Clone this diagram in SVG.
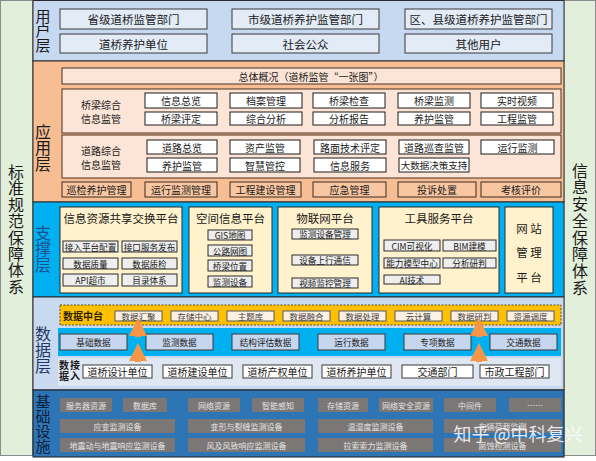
<svg xmlns="http://www.w3.org/2000/svg" width="596" height="461" viewBox="0 0 596 461">
<style>
text{font-family:"Noto Sans CJK SC","Noto Sans",sans-serif;text-anchor:middle;dominant-baseline:central;fill:#1a1a1a}
.v{writing-mode:vertical-rl;text-orientation:upright}
.ub{fill:#e3ebf6;stroke:#3a3a3a;stroke-width:1}
.pan{fill:#fce4d6;stroke:#4a3020;stroke-width:1}
.btn{fill:#ffffff;stroke:#1a1a1a;stroke-width:1}
.bb{fill:#f8c6a0;stroke:#3a2a20;stroke-width:1}
.plat{fill:#fff2cc;stroke:#2a2a2a;stroke-width:1}
.sb{fill:#eeeeee;stroke:#2a2a2a;stroke-width:1}
.zt{fill:#fdf1e4;stroke:#595959;stroke-width:1}
.mb{fill:#c6d6ee;stroke:#3a3a3a;stroke-width:1}
.ab{fill:#ffffff;stroke:#3a3a3a;stroke-width:1}
.fb{fill:#7b7777;stroke:none}
.ft{font-size:8px;fill:#e6e6e6}
.vt{font-size:16px}
.t11{font-size:11.5px}
.t10{font-size:10px}
.t9{font-size:8.6px}
.t85{font-size:8.5px;fill:#404040}
</style>
<defs>
<marker id="m" viewBox="0 0 10 10" refX="5" refY="5" markerWidth="3" markerHeight="3" orient="auto"><path d="M0,0L10,5L0,10z" fill="#f79646"/></marker>
</defs>
<rect x="0" y="0" width="596" height="461" fill="#ffffff"/>
<!-- side columns -->
<g id="side-left">
<rect x="0.5" y="0.5" width="32" height="455" fill="#e2efda" stroke="#8c8c8c"/>
<text class="vt v" x="16" y="229.5" style="letter-spacing:0.4px">标准规范保障体系</text>
</g>
<g id="side-right">
<rect x="564" y="0.5" width="31.5" height="455" fill="#e2efda" stroke="#8c8c8c"/>
<text class="vt v" x="580" y="229.5" style="letter-spacing:0.7px">信息安全保障体系</text>
</g>
<!-- user layer -->
<g id="user-layer">
<rect x="33" y="0.5" width="531" height="60.5" fill="#c6d9f1" stroke="#2a2a2a"/>
<text class="v" x="43" y="30.5" style="font-size:15px;letter-spacing:-0.5px">用户层</text>
<rect class="ub" x="60" y="9" width="147" height="20"/><text class="t11" x="133.5" y="19">省级道桥监管部门</text>
<rect class="ub" x="232" y="9" width="147" height="20"/><text class="t11" x="305.5" y="19">市级道桥养护监管部门</text>
<rect class="ub" x="405" y="9" width="147" height="20"/><text class="t11" x="478.5" y="19">区、县级道桥养护监管部门</text>
<rect class="ub" x="60" y="34" width="147" height="19"/><text class="t11" x="133.5" y="43.5">道桥养护单位</text>
<rect class="ub" x="232" y="34" width="147" height="19"/><text class="t11" x="305.5" y="43.5">社会公众</text>
<rect class="ub" x="405" y="34" width="147" height="19"/><text class="t11" x="478.5" y="43.5">其他用户</text>
</g>
<!-- application layer -->
<g id="app-layer">
<rect x="33" y="61" width="531" height="141" fill="#f7be94" stroke="#2a2a2a"/>
<text class="vt v" x="43" y="148">应用层</text>
<rect class="pan" x="62" y="68" width="499" height="16"/><text class="t10" x="311" y="76">总体概况（道桥监管“一张图”）</text>
<rect class="pan" x="62" y="89" width="499" height="44"/>
<text class="t10" x="101" y="104">桥梁综合</text><text class="t10" x="101" y="118">信息监管</text>
<rect class="btn" x="145" y="93" width="72" height="15"/><text class="t10" x="181" y="100.5">信息总览</text>
<rect class="btn" x="230" y="93" width="72" height="15"/><text class="t10" x="266" y="100.5">档案管理</text>
<rect class="btn" x="313" y="93" width="72" height="15"/><text class="t10" x="349" y="100.5">桥梁检查</text>
<rect class="btn" x="398" y="93" width="72" height="15"/><text class="t10" x="434" y="100.5">桥梁监测</text>
<rect class="btn" x="481" y="93" width="72" height="15"/><text class="t10" x="517" y="100.5">实时视频</text>
<rect class="btn" x="145" y="112" width="72" height="13"/><text class="t10" x="181" y="118.5">桥梁评定</text>
<rect class="btn" x="230" y="112" width="72" height="13"/><text class="t10" x="266" y="118.5">综合分析</text>
<rect class="btn" x="313" y="112" width="72" height="13"/><text class="t10" x="349" y="118.5">分析报告</text>
<rect class="btn" x="398" y="112" width="72" height="13"/><text class="t10" x="434" y="118.5">养护监管</text>
<rect class="btn" x="481" y="112" width="72" height="13"/><text class="t10" x="517" y="118.5">工程监管</text>
<rect class="pan" x="62" y="135" width="499" height="43"/>
<text class="t10" x="101" y="150">道路综合</text><text class="t10" x="101" y="164">信息监管</text>
<rect class="btn" x="147" y="140" width="70" height="14"/><text class="t10" x="182" y="147">道路总览</text>
<rect class="btn" x="230" y="140" width="70" height="14"/><text class="t10" x="265" y="147">资产监管</text>
<rect class="btn" x="314" y="140" width="72" height="14"/><text class="t10" x="350" y="147">路面技术评定</text>
<rect class="btn" x="399" y="140" width="70" height="14"/><text class="t10" x="434" y="147">道路巡查监管</text>
<rect class="btn" x="481" y="140" width="73" height="14"/><text class="t10" x="517.5" y="147">运行监测</text>
<rect class="btn" x="147" y="158" width="70" height="14"/><text class="t10" x="182" y="165">养护监管</text>
<rect class="btn" x="230" y="158" width="70" height="14"/><text class="t10" x="265" y="165">智慧管控</text>
<rect class="btn" x="314" y="158" width="72" height="14"/><text class="t10" x="350" y="165">信息服务</text>
<rect class="btn" x="399" y="158" width="70" height="14"/><text class="t10" x="434" y="165" style="font-size:9.5px">大数据决策支持</text>
<rect class="bb" x="62" y="182" width="69" height="15"/><text class="t10" x="96.5" y="189.5">巡检养护管理</text>
<rect class="bb" x="145" y="182" width="72" height="15"/><text class="t10" x="181" y="189.5">运行监测管理</text>
<rect class="bb" x="230" y="182" width="71" height="15"/><text class="t10" x="265.5" y="189.5">工程建设管理</text>
<rect class="bb" x="313" y="182" width="73" height="15"/><text class="t10" x="349.5" y="189.5">应急管理</text>
<rect class="bb" x="398" y="182" width="78" height="15"/><text class="t10" x="437" y="189.5">投诉处置</text>
<rect class="bb" x="481" y="182" width="80" height="15"/><text class="t10" x="521" y="189.5">考核评价</text>
</g>
<!-- support layer -->
<g id="support-layer">
<rect x="33" y="202" width="531" height="95" fill="#00b0f0" stroke="#2a2a2a"/>
<text class="vt v" x="43" y="249" style="fill:#1f4e8c">支撑层</text>
<rect class="plat" x="60" y="207" width="122" height="86"/><text class="t11" x="121" y="218">信息资源共享交换平台</text>
<rect class="sb" x="63" y="241" width="55" height="11"/><text class="t9" x="90.5" y="246.5">接入平台配置</text>
<rect class="sb" x="122" y="241" width="55" height="11"/><text class="t9" x="149.5" y="246.5">接口服务发布</text>
<rect class="sb" x="63" y="258" width="55" height="11"/><text class="t9" x="90.5" y="263.5">数据质量</text>
<rect class="sb" x="122" y="258" width="55" height="11"/><text class="t9" x="149.5" y="263.5">数据质检</text>
<rect class="sb" x="63" y="274" width="55" height="12"/><text class="t9" x="90.5" y="280">API超市</text>
<rect class="sb" x="122" y="274" width="55" height="12"/><text class="t9" x="149.5" y="280">目录体系</text>
<rect class="plat" x="189" y="207" width="83" height="86"/><text class="t11" x="230.5" y="218">空间信息平台</text>
<rect class="sb" x="208" y="230" width="44" height="10"/><text class="t9" x="230" y="235">GIS地图</text>
<rect class="sb" x="208" y="245" width="44" height="11"/><text class="t9" x="230" y="250.5">公路网图</text>
<rect class="sb" x="208" y="260" width="44" height="11"/><text class="t9" x="230" y="265.5">桥梁位置</text>
<rect class="sb" x="208" y="276" width="44" height="11"/><text class="t9" x="230" y="281.5">监测设备</text>
<rect class="plat" x="278" y="207" width="94" height="86"/><text class="t11" x="325" y="218">物联网平台</text>
<rect class="sb" x="292" y="229" width="66" height="10"/><text class="t9" x="325" y="234">监测设备管理</text>
<rect class="sb" x="292" y="255" width="66" height="10"/><text class="t9" x="325" y="260">设备上行通信</text>
<rect class="sb" x="292" y="278" width="66" height="10"/><text class="t9" x="325" y="283">视频监控管理</text>
<rect class="plat" x="379" y="207" width="120" height="86"/><text class="t11" x="439" y="218">工具服务平台</text>
<rect class="sb" x="384" y="240" width="56" height="11"/><text class="t9" x="412" y="245.5">CIM可视化</text>
<rect class="sb" x="443" y="240" width="53" height="11"/><text class="t9" x="469.5" y="245.5">BIM建模</text>
<rect class="sb" x="384" y="258" width="56" height="10"/><text class="t9" x="412" y="263">能力模型中心</text>
<rect class="sb" x="443" y="258" width="53" height="10"/><text class="t9" x="469.5" y="263">分析研判</text>
<rect class="sb" x="384" y="275" width="56" height="9"/><text class="t9" x="412" y="279.5">AI技术</text>
<rect class="plat" x="505" y="207" width="48" height="86"/>
<text class="t11" x="529" y="228">网 站</text><text class="t11" x="529" y="252">管 理</text><text class="t11" x="529" y="277">平 台</text>
</g>
<!-- data layer -->
<g id="data-layer">
<rect x="33" y="297" width="531" height="93" fill="#c9daf0" stroke="#2a2a2a"/>
<text class="vt v" x="43" y="350" style="fill:#1f3864">数据层</text>
<rect x="60" y="305" width="501" height="20" fill="#ffc000" stroke="#5a4a20" stroke-dasharray="2,1.5"/>
<text x="83" y="315" style="font-size:10px;font-weight:bold;fill:#2a1f00">数据中台</text>
<rect class="zt" x="115" y="311" width="47" height="10"/><text class="t85" x="138.5" y="316">数据汇聚</text>
<rect class="zt" x="171" y="311" width="47" height="10"/><text class="t85" x="194.5" y="316">存储中心</text>
<rect class="zt" x="227" y="311" width="47" height="10"/><text class="t85" x="250.5" y="316">主题库</text>
<rect class="zt" x="283" y="311" width="47" height="10"/><text class="t85" x="306.5" y="316">数据融合</text>
<rect class="zt" x="339" y="311" width="47" height="10"/><text class="t85" x="362.5" y="316">数据处理</text>
<rect class="zt" x="395" y="311" width="47" height="10"/><text class="t85" x="418.5" y="316">云计算</text>
<rect class="zt" x="451" y="311" width="47" height="10"/><text class="t85" x="474.5" y="316">数据研判</text>
<rect class="zt" x="507" y="311" width="47" height="10"/><text class="t85" x="530.5" y="316">资源调度</text>
<rect x="58" y="328" width="503" height="28" fill="#00b0f0"/>
<rect class="mb" x="60" y="334" width="67" height="16"/><text class="t9" x="93.5" y="342">基础数据</text>
<rect class="mb" x="146" y="334" width="67" height="16"/><text class="t9" x="179.5" y="342">监测数据</text>
<rect class="mb" x="232" y="334" width="67" height="16"/><text class="t9" x="265.5" y="342">结构评估数据</text>
<rect class="mb" x="318" y="334" width="67" height="16"/><text class="t9" x="351.5" y="342">运行数据</text>
<rect class="mb" x="404" y="334" width="67" height="16"/><text class="t9" x="437.5" y="342">专项数据</text>
<rect class="mb" x="490" y="334" width="67" height="16"/><text class="t9" x="523.5" y="342">交通数据</text>
<rect x="58" y="358" width="503" height="28" fill="#dfe7f2"/>
<text class="v" x="64" y="371.5" style="font-size:10px;font-weight:bold;letter-spacing:1px">数据</text>
<text class="v" x="75" y="371.5" style="font-size:10px;font-weight:bold;letter-spacing:1px">接入</text>
<rect class="ab" x="83" y="365" width="69" height="13"/><text class="t10" x="117.5" y="371.5">道桥设计单位</text>
<rect class="ab" x="163" y="365" width="69" height="13"/><text class="t10" x="197.5" y="371.5">道桥建设单位</text>
<rect class="ab" x="243" y="365" width="69" height="13"/><text class="t10" x="277.5" y="371.5">道桥产权单位</text>
<rect class="ab" x="322" y="365" width="69" height="13"/><text class="t10" x="356.5" y="371.5">道桥养护单位</text>
<rect class="ab" x="402" y="365" width="71" height="13"/><text class="t10" x="437.5" y="371.5">交通部门</text>
<rect class="ab" x="480" y="365" width="69" height="13"/><text class="t10" x="514.5" y="371.5">市政工程部门</text>
</g>
<!-- foundation layer -->
<g id="infra-layer">
<rect x="33" y="390" width="531" height="67" fill="#2e75b6" stroke="#1a1a1a"/>
<text class="v" x="43" y="424" style="font-size:15px;fill:#0d1f40;letter-spacing:0.3px">基础设施</text>
<rect class="fb" x="60" y="398" width="52" height="14"/><text class="ft" x="86" y="405">服务器资源</text>
<rect class="fb" x="123" y="398" width="44" height="14"/><text class="ft" x="145" y="405">数据库</text>
<rect class="fb" x="188" y="398" width="52" height="14"/><text class="ft" x="214" y="405">网络资源</text>
<rect class="fb" x="252" y="398" width="52" height="14"/><text class="ft" x="278" y="405">智能感知</text>
<rect class="fb" x="318" y="398" width="50" height="14"/><text class="ft" x="343" y="405">存储资源</text>
<rect class="fb" x="379" y="398" width="54" height="14"/><text class="ft" x="406" y="405">网络安全资源</text>
<rect class="fb" x="444" y="398" width="52" height="14"/><text class="ft" x="470" y="405">中间件</text>
<rect class="fb" x="509" y="398" width="52" height="14"/><text class="ft" x="535" y="405">……</text>
<rect class="fb" x="60" y="419" width="115" height="14"/><text class="ft" x="117.5" y="426">应变监测设备</text>
<rect class="fb" x="188" y="419" width="117" height="14"/><text class="ft" x="246.5" y="426">变形与裂缝监测设备</text>
<rect class="fb" x="318" y="419" width="115" height="14"/><text class="ft" x="375.5" y="426">温湿度监测设备</text>
<rect class="fb" x="444" y="419" width="117" height="14"/><text class="ft" x="502.5" y="426">车辆荷载监测</text>
<rect class="fb" x="60" y="438" width="115" height="14"/><text class="ft" x="117.5" y="445">地震动与地震响应监测设备</text>
<rect class="fb" x="188" y="438" width="117" height="14"/><text class="ft" x="246.5" y="445">风及风致响应监测设备</text>
<rect class="fb" x="318" y="438" width="115" height="14"/><text class="ft" x="375.5" y="445">拉索索力监测设备</text>
<rect class="fb" x="444" y="438" width="117" height="14"/><text class="ft" x="502.5" y="445">腐蚀检测设备</text>
</g>
<!-- connectors -->
<g id="connectors" stroke="#f79646" stroke-width="6" fill="none">
<line x1="138" y1="362" x2="138" y2="352" marker-end="url(#m)"/>
<line x1="138" y1="337" x2="138" y2="327" marker-end="url(#m)"/>
<line x1="479" y1="362" x2="479" y2="352" marker-end="url(#m)"/>
<line x1="479" y1="337" x2="479" y2="327" marker-end="url(#m)"/>
</g>
<text x="518" y="433" style="font-size:18px;fill:#ffffff;fill-opacity:0.85">知乎 @中科复兴</text>
</svg>
